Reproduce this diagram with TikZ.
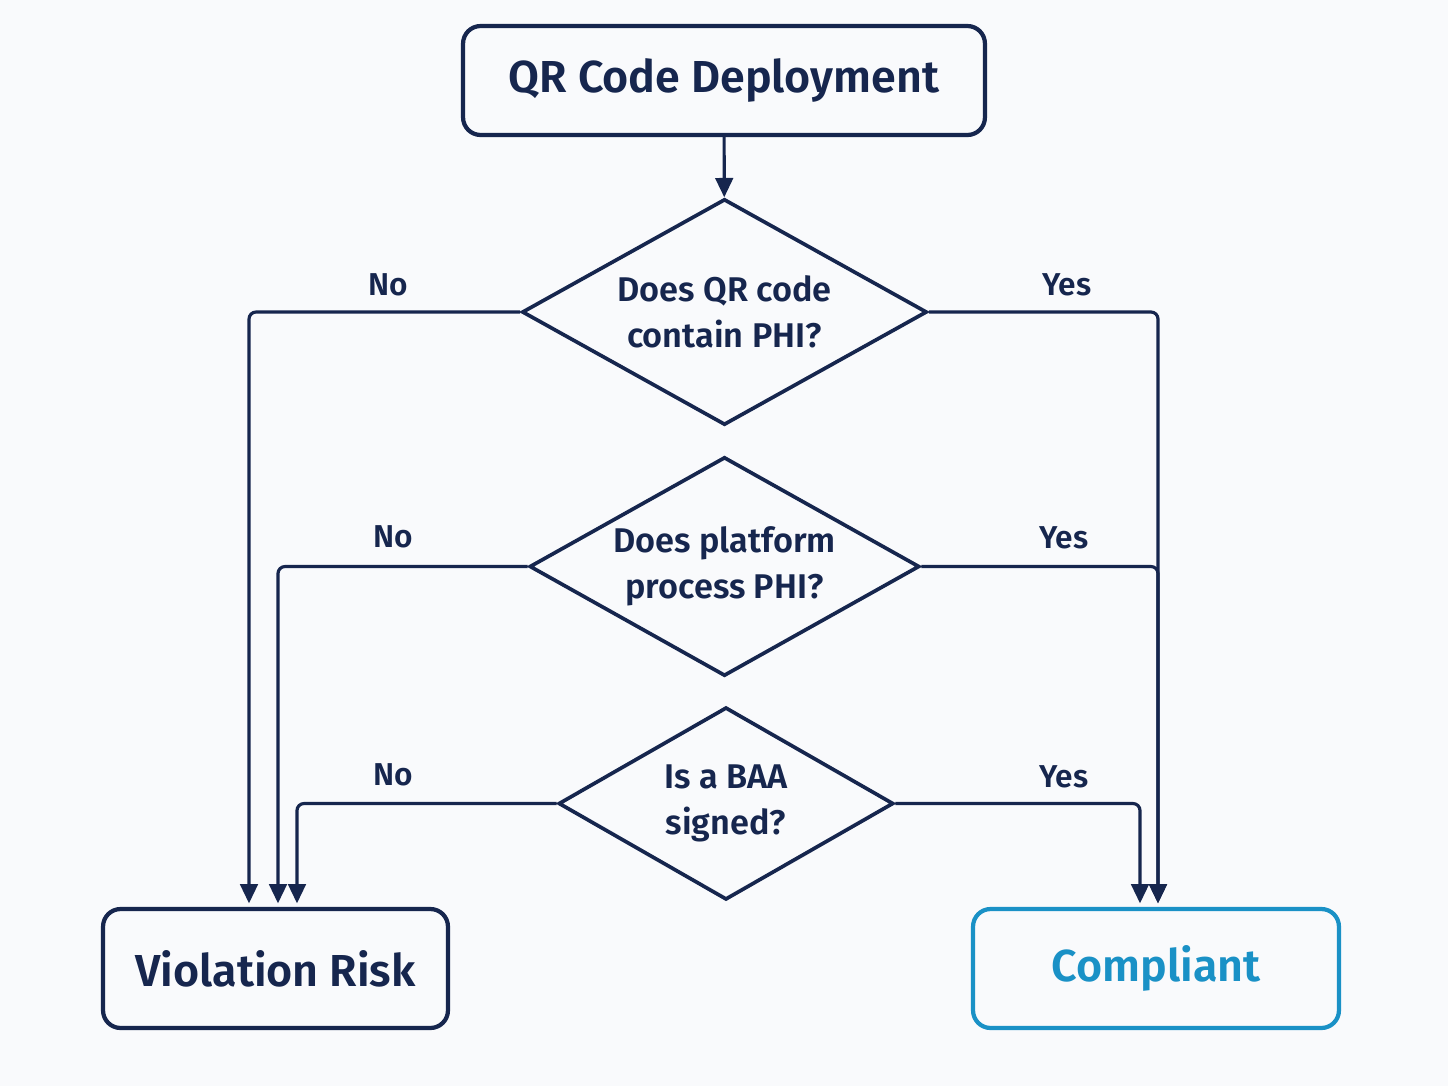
\documentclass[tikz,border=0pt]{standalone}
\usepackage{fontspec}
\setmainfont{Fira Sans}[BoldFont={Fira Sans SemiBold}]
\usetikzlibrary{positioning,shapes.geometric,arrows.meta}
\definecolor{navy}{RGB}{22,38,78}
\definecolor{okblue}{RGB}{26,145,198}
\definecolor{bgpaper}{RGB}{249,250,252}

\begin{document}
\begin{tikzpicture}[x=0.02cm,y=-0.02cm,
  box/.style={draw=navy,line width=2.4pt,rounded corners=10pt,text=navy,font=\fontsize{25.5}{30}\selectfont\bfseries,inner sep=0pt},
  decision/.style={diamond,draw=navy,line width=2.1pt,text=navy,font=\fontsize{19.5}{26}\selectfont\bfseries,align=center,inner sep=0pt},
  flow/.style={draw=navy,line width=1.8pt,rounded corners=4pt,shorten >=2pt,-{Triangle[width=10pt,length=11pt]}},
  lbl/.style={text=navy,font=\fontsize{18}{22}\selectfont\bfseries}]
\fill[bgpaper] (0,0) rectangle (1448,1086);

\node[box,minimum width=10.44cm,minimum height=2.18cm] (start) at (724,80.5) {QR Code Deployment};
\node[decision,aspect=1.785,minimum width=8.1cm,minimum height=4.52cm] (d1) at (724.5,312) {Does QR code\\contain PHI?};
\node[decision,aspect=1.78,minimum width=7.8cm,minimum height=4.38cm] (d2) at (724.5,566.5) {Does platform\\process PHI?};
\node[decision,aspect=1.73,minimum width=6.7cm,minimum height=3.85cm] (d3) at (726,803.5) {Is a BAA\\signed?};
\node[box,minimum width=6.9cm,minimum height=2.38cm] (risk) at (275.5,968.5) {Violation Risk};
\node[box,draw=okblue,text=okblue,minimum width=7.32cm,minimum height=2.38cm] (ok) at (1156,968.5) {Compliant};

\draw[flow,rounded corners=0pt,shorten >=0pt] (start) -- (d1);
% no branches
\draw[flow] (d1.west) -| ([xshift=-0.53cm]risk.north);
\draw[flow] (d2.west) -| ([xshift=0.05cm]risk.north);
\draw[flow] (d3.west) -| ([xshift=0.43cm]risk.north);
% yes branches
\draw[flow] (d1.east) -| ([xshift=0.04cm]ok.north);
\draw[flow] (d2.east) -| ([xshift=0.04cm]ok.north);
\draw[flow] (d3.east) -| ([xshift=-0.32cm]ok.north);

\node[lbl] (no1) at (388,285) {No};
\node[lbl] (yes1) at (1067,285) {Yes};
\node[lbl] (no2) at (393,537) {No};
\node[lbl] (yes2) at (1064,538) {Yes};
\node[lbl] (no3) at (393,775) {No};
\node[lbl] (yes3) at (1064,777) {Yes};
\end{tikzpicture}
\end{document}
